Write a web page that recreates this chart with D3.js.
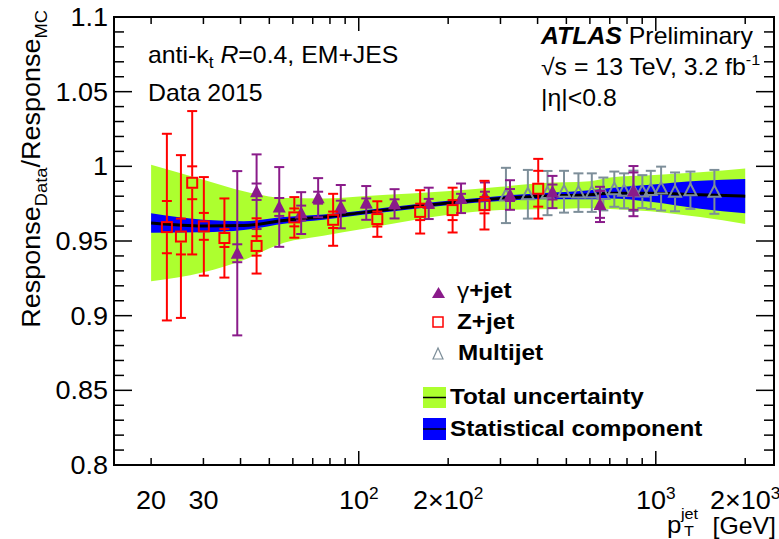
<!DOCTYPE html>
<html lang="en">
<head>
<meta charset="UTF-8"/>
<title>Response Data / MC vs jet pT</title>
<script src="https://d3js.org/d3.v7.min.js"></script>
<style>
	body { margin: 0; background: #fff; }
	svg { font-family: "Liberation Sans", Arial, sans-serif; }
</style>
</head>
<body>
<script>
// combined in-situ result (central value, stat and total uncertainty)
var bandPt     = [20, 30, 41, 56, 76, 103, 150, 203, 300, 408, 600, 702, 957, 1410, 2000];
var bandCenter = [0.962, 0.960, 0.9603, 0.9638, 0.966, 0.969, 0.9728, 0.9756, 0.9785, 0.980, 0.981, 0.982, 0.982, 0.981, 0.980];
var bandStat   = [0.0065, 0.0042, 0.003, 0.0022, 0.0018, 0.0015, 0.0015, 0.0015, 0.0017, 0.002, 0.003, 0.0035, 0.0057, 0.0094, 0.0115];
var bandTotal  = [0.039, 0.031, 0.023, 0.015, 0.0125, 0.011, 0.009, 0.0078, 0.0078, 0.0087, 0.009, 0.0105, 0.012, 0.015, 0.0186];

// gamma+jet
var gammaPt   = [39, 45.3, 54, 64, 73, 87, 106, 132, 172, 221, 266, 323, 449, 649, 841];
var gammaVal  = [0.9418, 0.983, 0.9728, 0.9687, 0.979, 0.973, 0.9755, 0.9749, 0.9752, 0.9786, 0.980, 0.9808, 0.9828, 0.9745, 0.9834];
var gammaTot  = [0.055, 0.025, 0.0267, 0.014, 0.0131, 0.0145, 0.0113, 0.0098, 0.0105, 0.0099, 0.0092, 0.0099, 0.0108, 0.0118, 0.0168];
var gammaStat = [0.006, 0.0055, 0.006, 0.005, 0.004, 0.004, 0.003, 0.003, 0.003, 0.003, 0.003, 0.004, 0.005, 0.009, 0.0125];

// Z+jet
var zPt   = [22.6, 25.2, 27.5, 30.1, 35.3, 45.3, 60.7, 82, 115.5, 161, 207, 265, 402];
var zVal  = [0.9593, 0.953, 0.989, 0.9598, 0.952, 0.9467, 0.9658, 0.9642, 0.9647, 0.9695, 0.9707, 0.974, 0.985];
var zTot  = [0.0625, 0.0545, 0.048, 0.033, 0.0265, 0.0185, 0.0136, 0.0174, 0.0119, 0.0145, 0.015, 0.0163, 0.020];
var zStat = [0.0175, 0.012, 0.011, 0.009, 0.006, 0.0065, 0.006, 0.0055, 0.005, 0.0055, 0.0067, 0.0055, 0.012];

// multijet
var mjPt  = [313, 371, 432, 491, 549, 609, 666, 725, 782, 841, 901, 962, 1042, 1161, 1308, 1575];
var mjVal = [0.9805, 0.9813, 0.9821, 0.983, 0.9824, 0.9824, 0.9815, 0.9847, 0.9836, 0.9836, 0.9831, 0.9842, 0.9851, 0.9829, 0.984, 0.9829];
var mjTot = [0.0185, 0.0163, 0.0148, 0.014, 0.0129, 0.0129, 0.011, 0.0118, 0.0117, 0.0135, 0.011, 0.0128, 0.0147, 0.013, 0.0125, 0.0147];

// axis ticks
var yMajor = [0.8, 0.85, 0.9, 0.95, 1.0, 1.05, 1.1];
var yMinor = d3.range(0.8, 1.1001, 0.01);
var xMajor = [100, 1000];
var xMinor = [20, 30, 40, 50, 60, 70, 80, 90, 200, 300, 400, 500, 600, 700, 800, 900, 2000];
var xLabelVal  = [20, 30, 100, 200, 1000, 2000];
var xLabelBase = ["20", "30", "10", "2\u00d710", "10", "2\u00d710"];
var xLabelExp  = ["", "", "2", "2", "3", "3"];

var w = 779, h = 539;
var pLeft = 114, pRight = 774, pTop = 17, pBottom = 465;
var SX = 1.08;   // text is a little wider than Liberation Sans

var cGreen = "#adff2f", cBlue = "#0000ff", cPurple = "#8a1b8a", cRed = "#ff0000", cGrey = "#7d8e99";

var xScale = d3.scaleLog().domain([15, 2500]).range([pLeft, pRight]);
var yScale = d3.scaleLinear().domain([0.8, 1.1]).range([pBottom, pTop]);

var svg = d3.select("body").append("svg")
	.attr("width", w)
	.attr("height", h);

function txt(g, x, y, anchor, size, weight) {
	return g.append("text")
		.attr("transform", "translate(" + x + "," + y + ") scale(" + SX + ",1)")
		.attr("text-anchor", anchor)
		.attr("font-size", size)
		.attr("font-weight", weight || "normal");
}

// bands
var band = bandPt.map(function (p, i) {
	return { pt: p, c: bandCenter[i], s: bandStat[i], t: bandTotal[i] };
});
var curve = d3.curveMonotoneX;

svg.append("path").datum(band)
	.attr("fill", cGreen)
	.attr("d", d3.area().curve(curve)
		.x(function (d) { return xScale(d.pt); })
		.y0(function (d) { return yScale(d.c - d.t); })
		.y1(function (d) { return yScale(d.c + d.t); }));

svg.append("path").datum(band)
	.attr("fill", cBlue)
	.attr("d", d3.area().curve(curve)
		.x(function (d) { return xScale(d.pt); })
		.y0(function (d) { return yScale(d.c - d.s); })
		.y1(function (d) { return yScale(d.c + d.s); }));

svg.append("path").datum(band)
	.attr("fill", "none")
	.attr("stroke", "#000")
	.attr("stroke-width", 3)
	.attr("d", d3.line().curve(curve)
		.x(function (d) { return xScale(d.pt); })
		.y(function (d) { return yScale(d.c); }));

// markers with error bars
function triPath(cx, cy, hw, up, down) {
	return "M" + cx + "," + (cy - up) + "L" + (cx - hw) + "," + (cy + down) + "L" + (cx + hw) + "," + (cy + down) + "Z";
}

function drawSeries(pts, vals, tots, stats, color, kind) {
	var g = svg.append("g").attr("stroke", color).attr("stroke-width", 2);
	pts.forEach(function (p, i) {
		var px = xScale(p), py = yScale(vals[i]);
		var yTop = yScale(vals[i] + tots[i]), yBot = yScale(vals[i] - tots[i]);
		var gap = kind === "tri" ? 0 : 6;
		if (yTop < py - gap) g.append("line").attr("x1", px).attr("x2", px).attr("y1", yTop).attr("y2", py - gap);
		if (yBot > py + gap) g.append("line").attr("x1", px).attr("x2", px).attr("y1", py + gap).attr("y2", yBot);
		var caps = [yTop, yBot];
		if (stats) caps.push(yScale(vals[i] + stats[i]), yScale(vals[i] - stats[i]));
		caps.forEach(function (cy) {
			g.append("line").attr("x1", px - 5).attr("x2", px + 5).attr("y1", cy).attr("y2", cy);
		});
		if (kind === "tri") {
			g.append("path").attr("d", triPath(px, py, 6.5, 7, 5.5))
				.attr("fill", color).attr("stroke", "none");
		} else if (kind === "square") {
			g.append("rect").attr("x", px - 5).attr("y", py - 5)
				.attr("width", 10).attr("height", 10).attr("fill", "none");
		} else {
			g.append("path").attr("d", triPath(px, py, 6, 6.5, 5)).attr("fill", "none");
		}
	});
}

drawSeries(mjPt, mjVal, mjTot, null, cGrey, "open");
drawSeries(gammaPt, gammaVal, gammaTot, gammaStat, cPurple, "tri");
drawSeries(zPt, zVal, zTot, zStat, cRed, "square");

// frame and ticks
var ax = svg.append("g").attr("stroke", "#000");
yMinor.forEach(function (v) {
	var yy = yScale(v);
	var major = yMajor.some(function (m) { return Math.abs(m - v) < 1e-6; });
	var len = major ? 18 : 10;
	ax.append("line").attr("x1", pLeft).attr("x2", pLeft + len).attr("y1", yy).attr("y2", yy).attr("stroke-width", 1.5);
	ax.append("line").attr("x1", pRight).attr("x2", pRight - len).attr("y1", yy).attr("y2", yy).attr("stroke-width", 1.5);
});
xMinor.concat(xMajor).forEach(function (v) {
	var xx = xScale(v);
	var len = xMajor.indexOf(v) >= 0 ? 14 : 7;
	ax.append("line").attr("x1", xx).attr("x2", xx).attr("y1", pBottom).attr("y2", pBottom - len).attr("stroke-width", 1.5);
	ax.append("line").attr("x1", xx).attr("x2", xx).attr("y1", pTop).attr("y2", pTop + len).attr("stroke-width", 1.5);
});
svg.append("rect")
	.attr("x", pLeft).attr("y", pTop)
	.attr("width", pRight - pLeft).attr("height", pBottom - pTop)
	.attr("fill", "none").attr("stroke", "#000").attr("stroke-width", 2);

// tick labels
yMajor.forEach(function (v) {
	txt(svg, 108, yScale(v) + 9, "end", 25).text(d3.format("~g")(v));
});
xLabelVal.forEach(function (v, i) {
	var t = txt(svg, xScale(v), 509, "middle", 25);
	t.append("tspan").text(xLabelBase[i]);
	if (xLabelExp[i]) t.append("tspan").attr("font-size", 16).attr("dy", -10).text(xLabelExp[i]);
});

// axis titles
var yTitle = svg.append("text")
	.attr("transform", "translate(40,10) rotate(-90) scale(" + SX + ",1)")
	.attr("text-anchor", "end")
	.attr("font-size", 25);
yTitle.append("tspan").text("Response");
yTitle.append("tspan").attr("font-size", 17).attr("dy", 7).text("Data");
yTitle.append("tspan").attr("dy", -7).text("/Response");
yTitle.append("tspan").attr("font-size", 17).attr("dy", 7).text("MC");

txt(svg, 667, 533, "start", 24).text("p");
txt(svg, 681, 519, "start", 15).text("jet");
txt(svg, 684, 536, "start", 15).text("T");
txt(svg, 776, 534, "end", 23).text("[GeV]");

// labels inside the plot
var t1 = txt(svg, 148, 63, "start", 23);
t1.append("tspan").text("anti-k");
t1.append("tspan").attr("font-size", 16).attr("dy", 5).text("t");
t1.append("tspan").attr("dy", -5).text(" ");
t1.append("tspan").attr("font-style", "italic").text("R");
t1.append("tspan").text("=0.4, EM+JES");
txt(svg, 148, 101, "start", 23).text("Data 2015");

var t2 = txt(svg, 541, 44, "start", 23);
t2.append("tspan").attr("font-weight", "bold").attr("font-style", "italic").text("ATLAS");
t2.append("tspan").text(" Preliminary");
var t3 = txt(svg, 541, 75, "start", 23);
t3.append("tspan").text("\u221as = 13 TeV, 3.2 fb");
t3.append("tspan").attr("font-size", 15).attr("dy", -10).text("-1");
txt(svg, 541, 106, "start", 23).text("|\u03b7|<0.8");

// legend
var lg = svg.append("g");
lg.append("path").attr("d", triPath(438.5, 293, 6.5, 6, 5)).attr("fill", cPurple);
lg.append("rect").attr("x", 433).attr("y", 317).attr("width", 10).attr("height", 10)
	.attr("fill", "none").attr("stroke", cRed).attr("stroke-width", 1.5);
lg.append("path").attr("d", triPath(438, 354, 5, 6, 5)).attr("fill", "none")
	.attr("stroke", cGrey).attr("stroke-width", 1.2);

var l1 = txt(lg, 457, 298, "start", 22.5);
l1.append("tspan").text("\u03b3");
l1.append("tspan").attr("font-weight", "bold").text("+jet");
txt(lg, 457, 329, "start", 22.5, "bold").text("Z+jet");
txt(lg, 458, 360, "start", 22.5, "bold").text("Multijet");

lg.append("rect").attr("x", 423).attr("y", 387).attr("width", 23).attr("height", 21).attr("fill", cGreen);
lg.append("line").attr("x1", 423).attr("x2", 446).attr("y1", 397.5).attr("y2", 397.5).attr("stroke", "#000").attr("stroke-width", 1.5);
lg.append("rect").attr("x", 423).attr("y", 418).attr("width", 23).attr("height", 22).attr("fill", cBlue);
lg.append("line").attr("x1", 423).attr("x2", 446).attr("y1", 429).attr("y2", 429).attr("stroke", "#000").attr("stroke-width", 1.5);
txt(lg, 450, 404, "start", 22.5, "bold").text("Total uncertainty");
txt(lg, 450, 436, "start", 22.5, "bold").text("Statistical component");
</script>
</body>
</html>
